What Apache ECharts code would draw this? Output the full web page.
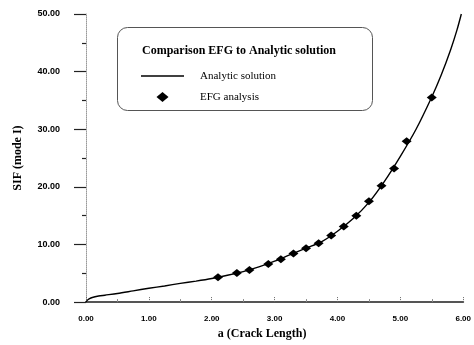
<!DOCTYPE html>
<html>
<head>
<meta charset="utf-8">
<script src="https://cdn.jsdelivr.net/npm/echarts@6/dist/echarts.min.js"></script>
<style>html,body{margin:0;padding:0;background:#fff}#c{width:474px;height:345px}</style>
</head>
<body>
<div id="c"></div>
<script>
// Analytic solution curve
const analyticA = [0, 0.02, 0.05, 0.1, 0.2, 0.3, 0.5, 0.75, 1.0, 1.25, 1.5, 1.75, 2.0, 2.25, 2.5, 2.75, 3.0, 3.25, 3.5, 3.75, 4.0, 4.25, 4.5, 4.75, 5.0, 5.25, 5.5, 5.65, 5.8, 5.9, 5.97];
const analyticSIF = [0, 0.3, 0.55, 0.8, 1.05, 1.2, 1.5, 1.95, 2.4, 2.8, 3.25, 3.65, 4.1, 4.65, 5.3, 6.1, 7.1, 8.25, 9.35, 10.5, 12.3, 14.5, 17.3, 21.0, 25.3, 30.0, 35.6, 39.4, 43.8, 47.2, 50.0];
// EFG analysis points
const efgA = [2.1, 2.4, 2.6, 2.9, 3.1, 3.3, 3.5, 3.7, 3.9, 4.1, 4.3, 4.5, 4.7, 4.9, 5.1, 5.5];
const efgSIF = [4.3, 5.05, 5.55, 6.6, 7.45, 8.45, 9.35, 10.2, 11.55, 13.1, 15.0, 17.5, 20.2, 23.2, 27.9, 35.5];
const xTicks = [0, 1, 2, 3, 4, 5, 6];
const yTicks = [0, 10, 20, 30, 40, 50];
const legendTitle = 'Comparison EFG to Analytic solution';
const seriesNames = ['Analytic solution', 'EFG analysis'];

const chart = echarts.init(document.getElementById('c'), null, {renderer: 'canvas'});
const serif = '"Liberation Serif", "Times New Roman", serif';
const sans = '"Liberation Sans", Arial, sans-serif';
chart.setOption({
  animation: false,
  backgroundColor: '#fff',
  title: {
    text: legendTitle,
    left: 137, top: 40,
    textStyle: {fontFamily: serif, fontWeight: 'bold', fontSize: 12, color: '#000'}
  },
  legend: {
    orient: 'vertical', left: 136, top: 65.5,
    itemWidth: 43, itemHeight: 10, itemGap: 10,
    symbolKeepAspect: true,
    data: [
      {name: seriesNames[0], icon: 'path://M0,0L43,0L43,1.5L0,1.5Z', itemStyle: {color: '#000', opacity: 1}},
      {name: seriesNames[1], icon: 'path://M6,0L12,5L6,10L0,5Z', itemStyle: {color: '#000', opacity: 1}}
    ],
    formatter: name => '{t|' + name + '}',
    textStyle: {
      fontFamily: serif, fontSize: 11, color: '#000',
      rich: {t: {fontFamily: serif, fontSize: 11, color: '#000', padding: [0, 0, 0, 11]}}
    }
  },
  graphic: [{
    type: 'rect', left: 115, top: 25, z: -1,
    shape: {width: 255, height: 83, r: 10},
    style: {fill: 'none', stroke: '#555', lineWidth: 1}
  }],
  grid: {left: 86, right: 1, top: 14, bottom: 37},
  xAxis: {
    type: 'value', min: xTicks[0], max: xTicks[xTicks.length - 1], interval: 1,
    name: 'a (Crack Length)', nameLocation: 'middle', nameGap: 20,
    nameTextStyle: {fontFamily: serif, fontWeight: 'bold', fontSize: 12, color: '#000', padding: [0, 25, 0, 0]},
    axisLine: {lineStyle: {color: '#555', width: 2}},
    axisTick: {inside: true, length: 6, lineStyle: {color: '#666', type: 'dotted'}},
    minorTick: {show: true, splitNumber: 2, length: 3, lineStyle: {color: '#888'}},
    axisLabel: {margin: 13, fontFamily: sans, fontWeight: 'bold', fontSize: 8, color: '#000', formatter: v => v.toFixed(2)},
    splitLine: {show: false}
  },
  yAxis: {
    type: 'value', min: yTicks[0], max: yTicks[yTicks.length - 1], interval: 10,
    name: 'SIF (mode I)', nameLocation: 'middle', nameGap: 62,
    nameTextStyle: {fontFamily: serif, fontWeight: 'bold', fontSize: 12, color: '#000'},
    axisLine: {lineStyle: {color: '#999', type: 'dotted', width: 1}},
    axisTick: {length: 12, lineStyle: {color: '#222', width: 1.2}},
    minorTick: {show: true, splitNumber: 2, length: 4, lineStyle: {color: '#222', width: 1.2}},
    axisLabel: {margin: 26, fontFamily: sans, fontWeight: 'bold', fontSize: 9, color: '#000', formatter: v => v.toFixed(2)},
    splitLine: {show: false}
  },
  series: [
    {
      name: seriesNames[0], type: 'line', smooth: 0.3, showSymbol: false, symbol: 'none',
      data: analyticA.map((a, i) => [a, analyticSIF[i]]),
      lineStyle: {color: '#000', width: 1.4}, itemStyle: {color: '#000'}, z: 2
    },
    {
      name: seriesNames[1], type: 'scatter', symbol: 'diamond', symbolSize: [10, 8],
      data: efgA.map((a, i) => [a, efgSIF[i]]),
      itemStyle: {color: '#000', opacity: 1}, z: 3
    }
  ]
});
</script>
</body>
</html>
